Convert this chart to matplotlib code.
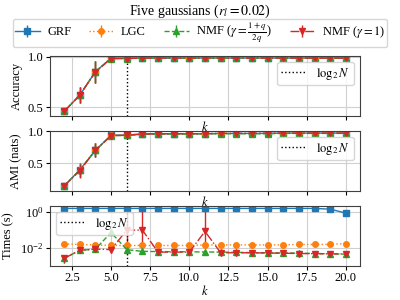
import numpy as np
import matplotlib
matplotlib.use("Agg")
import matplotlib.pyplot as plt

plt.rcParams['font.family'] = ['Liberation Serif', 'DejaVu Serif']
plt.rcParams['mathtext.fontset'] = 'stix'
plt.rcParams['font.size'] = 9

# ---- data ----
k = list(range(2, 21))
names = ['GRF', 'LGC', r'NMF ($\gamma=\frac{1+q}{2q}$)', r'NMF ($\gamma=1$)']
colors = ['tab:blue', 'tab:orange', 'tab:green', 'tab:red']
styles = ['-', ':', '--', '-.']
markers = ['s', 'o', '^', 'v']
log2N = 6

acc = [
    [0.46, 0.62, 0.85, 0.985, 0.985, 0.985, 0.985, 0.985, 0.985, 0.985, 0.985, 0.985, 0.985, 0.985, 0.985, 0.985, 0.985, 0.985, 0.985],
    [0.46, 0.62, 0.85, 0.985, 0.985, 0.985, 0.985, 0.985, 0.985, 0.985, 0.985, 0.985, 0.985, 0.985, 0.985, 0.985, 0.985, 0.985, 0.985],
    [0.46, 0.62, 0.85, 0.98, 0.98, 0.985, 0.985, 0.985, 0.985, 0.985, 0.985, 0.985, 0.985, 0.985, 0.985, 0.985, 0.985, 0.985, 0.985],
    [0.46, 0.62, 0.85, 0.98, 0.98, 0.985, 0.985, 0.985, 0.985, 0.985, 0.985, 0.985, 0.985, 0.985, 0.985, 0.985, 0.985, 0.985, 0.985],
]
acc_err = [0.0, 0.08, 0.11, 0.01, 0.01, 0.005, 0.005, 0.005, 0.005, 0.005, 0.005, 0.005, 0.005, 0.005, 0.005, 0.005, 0.005, 0.005, 0.005]

ami = [
    [0.14, 0.39, 0.70, 0.935, 0.94, 0.955, 0.96, 0.96, 0.96, 0.96, 0.965, 0.965, 0.965, 0.965, 0.97, 0.97, 0.97, 0.97, 0.97],
    [0.14, 0.39, 0.70, 0.935, 0.94, 0.955, 0.96, 0.96, 0.96, 0.96, 0.965, 0.965, 0.965, 0.965, 0.97, 0.97, 0.97, 0.97, 0.97],
    [0.14, 0.39, 0.70, 0.93, 0.935, 0.95, 0.955, 0.955, 0.955, 0.96, 0.96, 0.96, 0.96, 0.96, 0.965, 0.965, 0.965, 0.965, 0.965],
    [0.14, 0.38, 0.70, 0.93, 0.935, 0.955, 0.96, 0.96, 0.96, 0.96, 0.965, 0.965, 0.965, 0.97, 0.97, 0.97, 0.97, 0.97, 0.97],
]
ami_err = [0.01, 0.11, 0.11, 0.01, 0.01, 0.01, 0.01, 0.01, 0.01, 0.01, 0.01, 0.01, 0.01, 0.01, 0.01, 0.01, 0.01, 0.01, 0.01]

times = [
    [1.6, 1.6, 1.6, 1.6, 1.6, 1.6, 1.6, 1.6, 1.6, 1.6, 1.6, 1.6, 1.6, 1.6, 1.6, 1.6, 1.6, 1.45, 0.88],
    [0.017, 0.016, 0.015, 0.014, 0.014, 0.014, 0.014, 0.014, 0.014, 0.015, 0.015, 0.015, 0.015, 0.015, 0.015, 0.016, 0.016, 0.016, 0.018],
    [0.0027, 0.0075, 0.0088, 0.074, 0.0082, 0.0066, 0.0064, 0.0063, 0.0062, 0.0061, 0.006, 0.0058, 0.0056, 0.0055, 0.0054, 0.0052, 0.005, 0.0048, 0.0046],
    [0.0027, 0.0075, 0.0088, 0.0082, 0.1, 0.1, 0.006, 0.006, 0.006, 0.085, 0.0055, 0.0055, 0.0055, 0.0053, 0.0052, 0.005, 0.0049, 0.0048, 0.0047],
]
# timing spread (lower, upper) for the NMF runs
nmf1_lo = [0.0012, 0.002, 0.001, 0.001, 0.09, 0.09, 0.0005, 0.0005, 0.0005, 0.075, 0.0005, 0.0005, 0.0005, 0.0005, 0.0005, 0.0005, 0.0005, 0.0005, 0.0005]
nmf1_hi = [0.0015, 0.002, 0.001, 0.001, 1.5, 1.5, 0.0005, 0.0005, 0.0005, 1.5, 0.0005, 0.0005, 0.0005, 0.0005, 0.0005, 0.0005, 0.0005, 0.0005, 0.0005]
nmf_lo = [0.0012, 0.002, 0.001, 0.01, 0.001, 0.0005, 0.0005, 0.0005, 0.0005, 0.0005, 0.0005, 0.0005, 0.0005, 0.0005, 0.0005, 0.0005, 0.0005, 0.0005, 0.0005]
nmf_hi = [0.0015, 0.002, 0.001, 0.01, 0.001, 0.0005, 0.0005, 0.0005, 0.0005, 0.0005, 0.0005, 0.0005, 0.0005, 0.0005, 0.0005, 0.0005, 0.0005, 0.0005, 0.0005]

fig, axes = plt.subplots(3, 1, figsize=(4, 3), dpi=100, sharex=True)
fig.subplots_adjust(left=0.125, right=0.9, top=0.815, bottom=0.113, hspace=0.24)

kw = dict(markersize=4, linewidth=1.0, elinewidth=1.0)
for i in range(4):
    axes[0].errorbar(k, acc[i], yerr=acc_err, color=colors[i], ls=styles[i], marker=markers[i], label=names[i], **kw)
    axes[1].errorbar(k, ami[i], yerr=ami_err, color=colors[i], ls=styles[i], marker=markers[i], **kw)
terr = [None, None, [nmf_lo, nmf_hi], [nmf1_lo, nmf1_hi]]
for i in range(4):
    axes[2].errorbar(k, times[i], yerr=terr[i], color=colors[i], ls=styles[i], marker=markers[i], **kw)

for ax in axes:
    ax.axvline(log2N, color='black', ls=':', lw=1.0, label=r'$\log_2 N$')
    ax.grid(True, color='#d0d0d0', lw=0.8)
    ax.set_axisbelow(True)
    ax.set_xlabel(r'$k$', labelpad=0)
    ax.tick_params(length=3, pad=1.5)
    for s in ax.spines.values():
        s.set_color('#404040')

axes[0].set_ylim(0.415, 1.01)
axes[0].set_yticks([0.5, 1.0])
axes[0].set_ylabel('Accuracy')
axes[1].set_ylim(0.06, 1.01)
axes[1].set_yticks([0.5, 1.0])
axes[1].set_ylabel('AMI (nats)')
axes[2].set_yscale('log')
axes[2].set_ylim(1e-3, 2.3)
axes[2].set_yticks([1e-2, 1e0])
axes[2].minorticks_off()
axes[2].set_ylabel('Times (s)')
axes[2].set_xlim(1.1, 20.9)
axes[2].set_xticks([2.5, 5.0, 7.5, 10.0, 12.5, 15.0, 17.5, 20.0])

for ax, loc in zip(axes, ['upper right', 'upper right', 'upper left']):
    h, l = ax.get_legend_handles_labels()
    idx = 0 if ax is axes[0] else -1
    ax.legend([h[idx]], [l[idx]], loc=loc, fontsize=9, borderpad=0.3)

h, l = axes[0].get_legend_handles_labels()
fig.legend(h[1:], l[1:], loc='upper center', ncol=4, bbox_to_anchor=(0.5, 0.95), fontsize=9,
           columnspacing=1.4, handlelength=2.0, borderpad=0.15, handletextpad=0.6,
           borderaxespad=0.3)
fig.suptitle(r'Five gaussians ($r_l = 0.02$)', y=0.99, fontsize=10)

fig.savefig('out.png', dpi=100)
